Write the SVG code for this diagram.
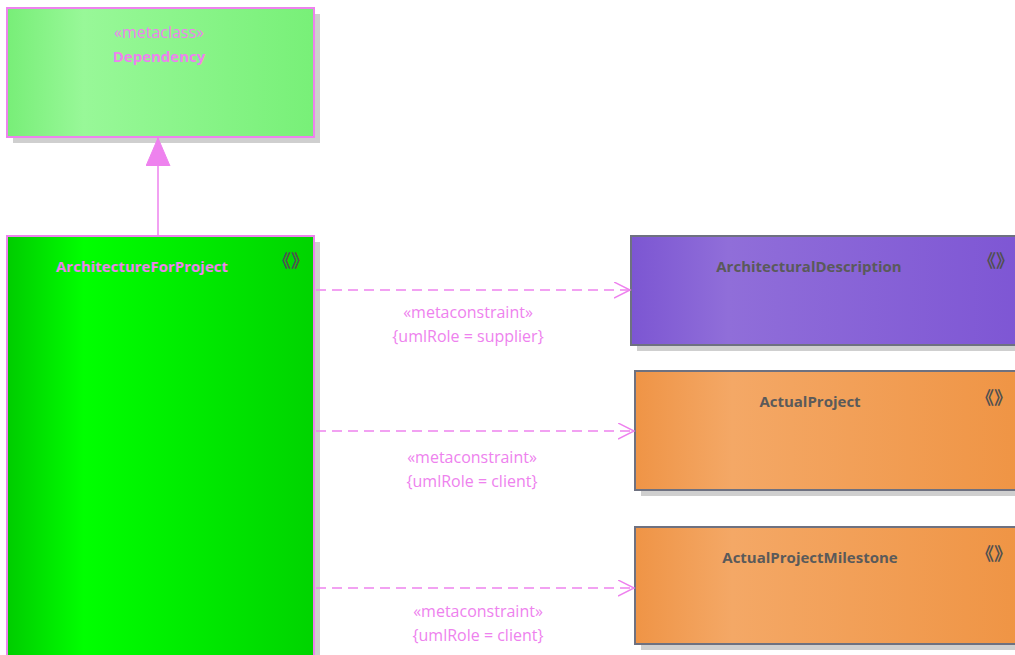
<svg xmlns="http://www.w3.org/2000/svg" width="1015" height="655" viewBox="0 0 1015 655">
<style>
.shadow{fill:#cfcfcf}
.pinkbox{stroke:#ee82ee;stroke-width:2}
.graybox{stroke:#6e7180;stroke-width:2}
.name{font-family:"Open Sans","Liberation Sans",sans-serif;font-weight:bold;font-size:15px;text-anchor:middle}
.pinkt{fill:#ee82ee}
.grayt{fill:#5a5a5a}
.stereo{font-family:"Open Sans","Liberation Sans",sans-serif;font-size:16px;text-anchor:middle;fill:#ee82ee}
.icon{font-family:"Noto Sans CJK SC",sans-serif;font-size:18px;font-weight:bold;fill:#505050;text-anchor:middle}
.dash{stroke:#ee82ee;stroke-width:1.5;stroke-dasharray:10 6;fill:none}
.solid{stroke:#ee82ee;stroke-width:1.5;fill:none}
</style>
<defs>
<linearGradient id="gLight" x1="0" x2="1" y1="0" y2="0">
<stop offset="0" stop-color="#78ee78"/><stop offset="0.25" stop-color="#98f898"/><stop offset="1" stop-color="#78f078"/>
</linearGradient>
<linearGradient id="gGreen" x1="0" x2="1" y1="0" y2="0">
<stop offset="0" stop-color="#00cc00"/><stop offset="0.25" stop-color="#00ff00"/><stop offset="1" stop-color="#00d400"/>
</linearGradient>
<linearGradient id="gPurple" x1="0" x2="1" y1="0" y2="0">
<stop offset="0" stop-color="#7c56d2"/><stop offset="0.25" stop-color="#906ed9"/><stop offset="1" stop-color="#7e56d4"/>
</linearGradient>
<linearGradient id="gOrange" x1="0" x2="1" y1="0" y2="0">
<stop offset="0" stop-color="#ef9446"/><stop offset="0.25" stop-color="#f4a866"/><stop offset="1" stop-color="#ef9444"/>
</linearGradient>
<marker id="openArrow" markerWidth="20" markerHeight="20" refX="16" refY="8" orient="auto" markerUnits="userSpaceOnUse">
<path d="M0,0 L16,8 L0,16" fill="none" stroke="#ee82ee" stroke-width="1.5"/>
</marker>
<marker id="genArrow" markerWidth="30" markerHeight="30" refX="28" refY="12" orient="auto" markerUnits="userSpaceOnUse">
<path d="M0,0 L28,12 L0,24 Z" fill="#ee82ee" stroke="#ee82ee" stroke-width="1"/>
</marker>
</defs>

<g id="Dependency">
<rect class="shadow" x="13" y="14" width="307" height="129"/>
<rect class="pinkbox" x="7" y="8" width="307" height="129" fill="url(#gLight)"/>
<text class="stereo" x="159" y="38">«metaclass»</text>
<text class="name pinkt" x="159" y="62">Dependency</text>
</g>

<g id="ArchitectureForProject">
<rect class="shadow" x="13" y="242" width="307" height="420"/>
<rect class="pinkbox" x="7" y="236" width="307" height="430" fill="url(#gGreen)"/>
<text class="name pinkt" x="142" y="272">ArchitectureForProject</text>
<text class="icon" x="291" y="267">《》</text>
</g>

<g id="ArchitecturalDescription">
<rect class="shadow" x="637" y="242" width="390" height="109"/>
<rect class="graybox" x="631" y="236" width="390" height="109" fill="url(#gPurple)"/>
<text class="name grayt" x="809" y="272">ArchitecturalDescription</text>
<text class="icon" x="996" y="267">《》</text>
</g>

<g id="ActualProject">
<rect class="shadow" x="641" y="377" width="390" height="119"/>
<rect class="graybox" x="635" y="371" width="390" height="119" fill="url(#gOrange)"/>
<text class="name grayt" x="810" y="407">ActualProject</text>
<text class="icon" x="994" y="404">《》</text>
</g>

<g id="ActualProjectMilestone">
<rect class="shadow" x="641" y="533" width="390" height="117"/>
<rect class="graybox" x="635" y="527" width="390" height="117" fill="url(#gOrange)"/>
<text class="name grayt" x="810" y="563">ActualProjectMilestone</text>
<text class="icon" x="994" y="560">《》</text>
</g>

<g id="connectors">
<line class="solid" x1="158" y1="236" x2="158" y2="138" marker-end="url(#genArrow)"/>
<line class="dash" x1="316" y1="290" x2="630" y2="290" marker-end="url(#openArrow)"/>
<text class="stereo" x="468" y="318">«metaconstraint»</text>
<text class="stereo" x="468" y="342">{umlRole = supplier}</text>
<line class="dash" x1="316" y1="431" x2="634" y2="431" marker-end="url(#openArrow)"/>
<text class="stereo" x="472" y="463">«metaconstraint»</text>
<text class="stereo" x="472" y="487">{umlRole = client}</text>
<line class="dash" x1="316" y1="588" x2="634" y2="588" marker-end="url(#openArrow)"/>
<text class="stereo" x="478" y="617">«metaconstraint»</text>
<text class="stereo" x="478" y="641">{umlRole = client}</text>
</g>
</svg>
